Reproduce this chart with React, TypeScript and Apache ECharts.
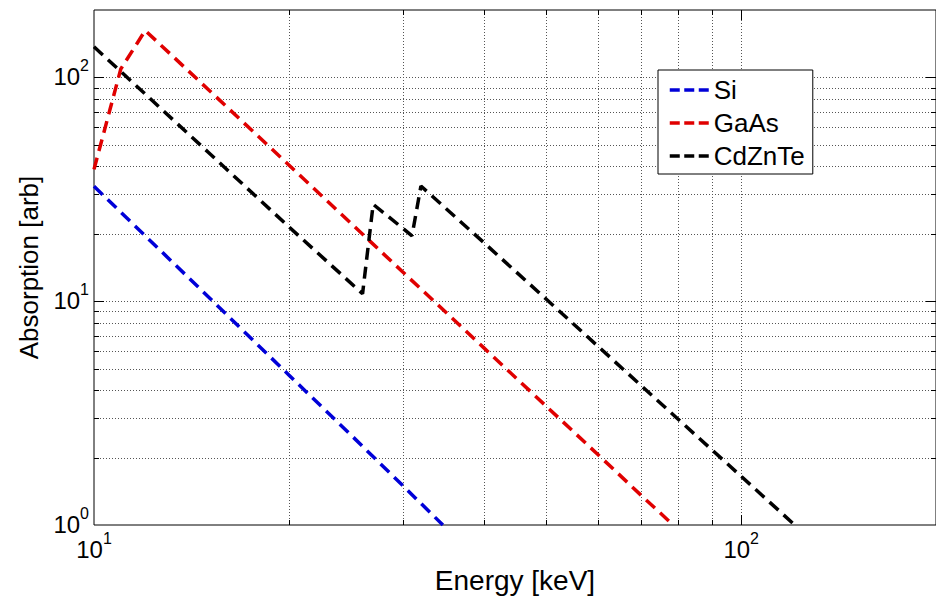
import React, { useEffect, useRef } from "react";
import * as echarts from "echarts";

// Axis extents (log-log)
const X_MIN = 10;
const X_MAX = 200;
const Y_MIN = 1;
const Y_MAX = 200;

// Absorption curves, sampled at the energies where they bend
const siEnergy = [10, 15, 20, 25, 30, 34.6];
const siAbs = [32.6, 10.5, 4.68, 2.51, 1.5, 1.0];

const gaasEnergy = [10, 11, 12, 15, 20, 30, 40, 50, 60, 70, 78.5];
const gaasAbs = [38.8, 109, 162, 88.5, 40.6, 13.5, 6.2, 3.39, 2.07, 1.36, 1.0];

const cztEnergy = [10, 15, 20, 26, 27, 31, 32, 40, 50, 60, 80, 100, 121];
const cztAbs = [137, 46.4, 21.5, 10.8, 27.1, 19.6, 32.7, 18.3, 10.2, 6.31, 2.96, 1.65, 1.0];

const seriesNames = ["Si", "GaAs", "CdZnTe"];
const seriesColors = ["#0000d8", "#e00000", "#000000"];

// Tick positions
const xLabelTicks = [10, 100];
const yLabelTicks = [1, 10, 100];
const xGridValues = [20, 30, 40, 50, 60, 70, 80, 90, 100];
const yGridValues = [2, 3, 4, 5, 6, 7, 8, 9, 10, 20, 30, 40, 50, 60, 70, 80, 90, 100];

const FONT = "'Liberation Sans', Arial, Helvetica, sans-serif";

const pairs = (xs: number[], ys: number[]) => xs.map((x, i) => [x, ys[i]]);

const powerLabel = (ticks: number[]) => (v: number) => {
  const hit = ticks.find((t) => Math.abs(t - v) / t < 1e-6);
  if (hit === undefined) return "";
  return `{b|10}{s|${Math.round(Math.log10(hit))}}`;
};

const isMajor = (v: number) => Math.abs(Math.log10(v) - Math.round(Math.log10(v))) < 1e-6;

const GRID_STROKE = "#555";
const DOT = [1, 2];

export default function App() {
  const ref = useRef<HTMLDivElement>(null);

  useEffect(() => {
    if (!ref.current) return;
    const chart = echarts.init(ref.current, undefined, { renderer: "svg" });

    const richLabel = {
      b: { fontSize: 24, fontFamily: FONT, color: "#000", verticalAlign: "bottom" },
      s: { fontSize: 16, fontFamily: FONT, color: "#000", verticalAlign: "bottom", padding: [0, 0, 15, 0] },
    };

    const lineSeries = [
      pairs(siEnergy, siAbs),
      pairs(gaasEnergy, gaasAbs),
      pairs(cztEnergy, cztAbs),
    ].map((data, i) => ({
      name: seriesNames[i],
      type: "line",
      data,
      symbol: "none",
      z: 5,
      lineStyle: { color: seriesColors[i], width: 3.5, type: [12, 7] },
      itemStyle: { color: seriesColors[i] },
    }));

    const snap = (v: number) => Math.round(v) + 0.5;

    chart.setOption({
      animation: false,
      textStyle: { fontFamily: FONT },
      grid: {
        left: 94,
        top: 10,
        width: 859,
        height: 519,
        show: true,
        borderColor: "#000",
        borderWidth: 1,
        backgroundColor: "#fff",
      },
      xAxis: {
        type: "log",
        logBase: 10,
        min: X_MIN,
        max: X_MAX,
        name: "Energy [keV]",
        nameLocation: "middle",
        nameGap: 41,
        nameTextStyle: { fontSize: 28, color: "#000", fontFamily: FONT },
        axisLine: { show: false },
        axisTick: { show: false },
        splitLine: { show: false },
        axisLabel: {
          margin: 5,
          formatter: powerLabel(xLabelTicks),
          rich: richLabel,
          showMinLabel: true,
          showMaxLabel: false,
          hideOverlap: false,
        },
      },
      yAxis: {
        type: "log",
        logBase: 10,
        min: Y_MIN,
        max: Y_MAX,
        name: "Absorption [arb]",
        nameLocation: "middle",
        nameGap: 52,
        nameTextStyle: { fontSize: 26, color: "#000", fontFamily: FONT },
        axisLine: { show: false },
        axisTick: { show: false },
        splitLine: { show: false },
        axisLabel: {
          margin: 5,
          formatter: powerLabel(yLabelTicks),
          rich: richLabel,
          padding: [0, 0, 8, 0],
          showMinLabel: true,
          showMaxLabel: false,
          hideOverlap: false,
        },
      },
      legend: {
        orient: "vertical",
        left: 658,
        top: 70,
        padding: [7, 8, 5, 10],
        itemGap: 7,
        itemWidth: 39,
        itemHeight: 14,
        backgroundColor: "#fff",
        borderColor: "#000",
        borderWidth: 1,
        borderRadius: 0,
        z: 10,
        data: seriesNames,
        textStyle: { fontSize: 26, color: "#000", fontFamily: FONT },
        itemStyle: { opacity: 0 },
        lineStyle: { width: 3.5, type: [10, 4.5] },
      },
      series: [
        {
          name: "xgrid",
          type: "custom",
          silent: true,
          z: 1,
          data: xGridValues.map((v) => [v, Y_MIN]),
          encode: { x: 0, y: 1 },
          renderItem: (_p: any, api: any) => {
            const v = api.value(0);
            const b = api.coord([v, Y_MIN]);
            const t = api.coord([v, Y_MAX]);
            const x = snap(b[0]);
            const len = isMajor(v) ? 10 : 5;
            return {
              type: "group",
              children: [
                { type: "line", shape: { x1: x, y1: b[1], x2: x, y2: t[1] }, style: { stroke: GRID_STROKE, lineWidth: 1, lineDash: DOT } },
                { type: "line", shape: { x1: x, y1: b[1], x2: x, y2: b[1] - len }, style: { stroke: "#000", lineWidth: 1 } },
                { type: "line", shape: { x1: x, y1: t[1], x2: x, y2: t[1] + len }, style: { stroke: "#000", lineWidth: 1 } },
              ],
            };
          },
        },
        {
          name: "ygrid",
          type: "custom",
          silent: true,
          z: 1,
          data: yGridValues.map((v) => [X_MIN, v]),
          encode: { x: 0, y: 1 },
          renderItem: (_p: any, api: any) => {
            const v = api.value(1);
            const l = api.coord([X_MIN, v]);
            const r = api.coord([X_MAX, v]);
            const y = snap(l[1]);
            const len = isMajor(v) ? 10 : 5;
            return {
              type: "group",
              children: [
                { type: "line", shape: { x1: l[0], y1: y, x2: r[0], y2: y }, style: { stroke: GRID_STROKE, lineWidth: 1, lineDash: DOT } },
                { type: "line", shape: { x1: l[0], y1: y, x2: l[0] + len, y2: y }, style: { stroke: "#000", lineWidth: 1 } },
                { type: "line", shape: { x1: r[0], y1: y, x2: r[0] - len, y2: y }, style: { stroke: "#000", lineWidth: 1 } },
              ],
            };
          },
        },
        ...lineSeries,
      ],
    });

    return () => chart.dispose();
  }, []);

  return (
    <div
      ref={ref}
      style={{ position: "absolute", left: 0, top: 0, width: 936, height: 599, background: "#fff" }}
    />
  );
}
